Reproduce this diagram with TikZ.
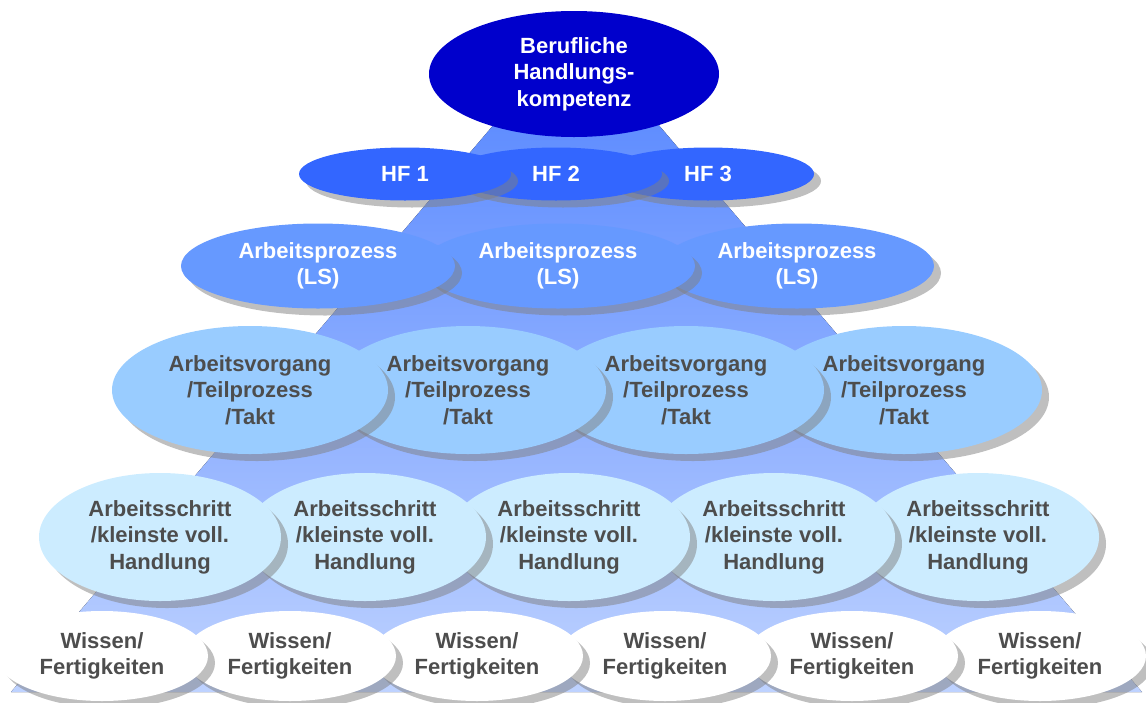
\documentclass[tikz,border=0pt]{standalone}
\usepackage{fontspec}
\setmainfont{Liberation Sans}
\usetikzlibrary{shapes.geometric,shadows}
\definecolor{cTop}{HTML}{0000CC}
\definecolor{cHF}{HTML}{3366FF}
\definecolor{cAP}{HTML}{6699FF}
\definecolor{cAV}{HTML}{99CCFF}
\definecolor{cAS}{HTML}{CCECFF}
\definecolor{cTxt}{HTML}{4D4D4D}
\definecolor{triTop}{RGB}{80,130,255}
\definecolor{triBot}{RGB}{190,210,255}
\begin{document}
\begin{tikzpicture}[x=1pt,y=-1pt,
  ell/.style={ellipse, inner sep=0pt, align=center, draw=none,
    font=\fontsize{22}{26.5}\selectfont\bfseries},
  shad/.style={drop shadow={shadow xshift=7pt, shadow yshift=-7pt, fill=black!50, opacity=0.5}},
  topell/.style={ell, fill=cTop, text=white, minimum width=290pt, minimum height=126pt},
  hfell/.style={ell, shad, fill=cHF, text=white, minimum width=212pt, minimum height=53pt},
  apell/.style={ell, shad, fill=cAP, text=white, minimum width=274pt, minimum height=85pt},
  avell/.style={ell, shad, fill=cAV, text=cTxt, minimum width=276pt, minimum height=128pt},
  asell/.style={ell, shad, fill=cAS, text=cTxt, minimum width=242pt, minimum height=128pt},
  wsell/.style={ell, shad, fill=white, text=cTxt, minimum width=212pt, minimum height=90pt}]
\useasboundingbox (0,0) rectangle (1146,702);
% pyramid
\fill[top color=triTop, bottom color=triBot] (576,28) -- (1142,692) -- (11,692) -- cycle;
% top
\node[topell] (top) at (574,74) {Berufliche\\Handlungs-\\kompetenz};
% HF row
\node[hfell] (hf3) at (708,174) {HF 3};
\node[hfell] (hf2) at (556,174) {HF 2};
\node[hfell] (hf1) at (405,174) {HF 1};
% Arbeitsprozess row
\node[apell] (ap3) at (797,266) {Arbeitsprozess\\(LS)};
\node[apell] (ap2) at (558,266) {Arbeitsprozess\\(LS)};
\node[apell] (ap1) at (318,266) {Arbeitsprozess\\(LS)};
% Arbeitsvorgang row
\node[avell] (av4) at (904,390) {Arbeitsvorgang\\/Teilprozess\\/Takt};
\node[avell] (av3) at (686,390) {Arbeitsvorgang\\/Teilprozess\\/Takt};
\node[avell] (av2) at (468,390) {Arbeitsvorgang\\/Teilprozess\\/Takt};
\node[avell] (av1) at (250,390) {Arbeitsvorgang\\/Teilprozess\\/Takt};
% Arbeitsschritt row
\node[asell] (as5) at (978,537) {Arbeitsschritt\\/kleinste voll.\\Handlung};
\node[asell] (as4) at (774,537) {Arbeitsschritt\\/kleinste voll.\\Handlung};
\node[asell] (as3) at (569,537) {Arbeitsschritt\\/kleinste voll.\\Handlung};
\node[asell] (as2) at (365,537) {Arbeitsschritt\\/kleinste voll.\\Handlung};
\node[asell] (as1) at (160,537) {Arbeitsschritt\\/kleinste voll.\\Handlung};
% Wissen row
\node[wsell] (ws6) at (1040,656) {Wissen/\\Fertigkeiten};
\node[wsell] (ws5) at (852,656) {Wissen/\\Fertigkeiten};
\node[wsell] (ws4) at (665,656) {Wissen/\\Fertigkeiten};
\node[wsell] (ws3) at (477,656) {Wissen/\\Fertigkeiten};
\node[wsell] (ws2) at (290,656) {Wissen/\\Fertigkeiten};
\node[wsell] (ws1) at (102,656) {Wissen/\\Fertigkeiten};
\end{tikzpicture}
\end{document}
